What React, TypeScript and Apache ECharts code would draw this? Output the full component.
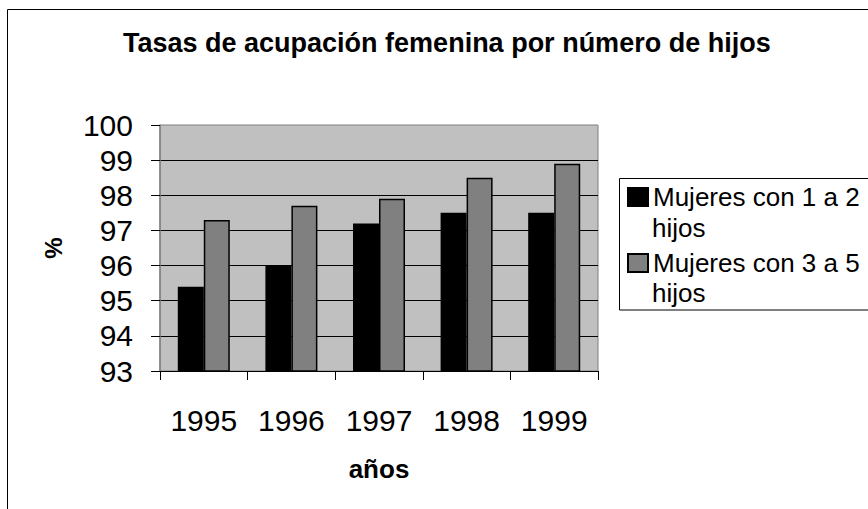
import React, { useEffect, useRef } from "react";
import * as echarts from "echarts";

const categories = ["1995", "1996", "1997", "1998", "1999"];
const seriesNames = ["Mujeres con 1 a 2 hijos", "Mujeres con 3 a 5 hijos"];
const legendFirstLines = ["Mujeres con 1 a 2", "Mujeres con 3 a 5"];
const legendSecondLine = "hijos";
const mujeres1a2 = [95.4, 96.0, 97.2, 97.5, 97.5];
const mujeres3a5 = [97.3, 97.7, 97.9, 98.5, 98.9];
const titleText = "Tasas de acupación femenina por número de hijos";
const xName = "años";
const yName = "%";

const FONT = "'Liberation Sans', Arial, sans-serif";

export default function App() {
  const ref = useRef<HTMLDivElement>(null);
  useEffect(() => {
    if (!ref.current) return;
    const chart = echarts.init(ref.current, null, { renderer: "svg" });
    chart.setOption({
      animation: false,
      backgroundColor: "#ffffff",
      textStyle: { fontFamily: FONT },
      title: {
        text: titleText,
        left: 123,
        top: 29,
        padding: 0,
        textStyle: { fontSize: 27, fontWeight: "bold", color: "#000", fontFamily: FONT, lineHeight: 27 },
      },
      grid: {
        left: 160,
        top: 125,
        width: 438,
        height: 246,
        show: true,
        backgroundColor: "#c0c0c0",
        borderColor: "#808080",
        borderWidth: 1,
      },
      legend: {
        orient: "vertical",
        left: 627,
        top: 182,
        padding: 0,
        itemWidth: 20,
        itemHeight: 18,
        itemGap: 36,
        icon: "rect",
        data: seriesNames,
        formatter: (name: string) => legendFirstLines[seriesNames.indexOf(name)],
        textStyle: { fontSize: 26, color: "#000", fontFamily: FONT, lineHeight: 30 },
      },
      xAxis: {
        type: "category",
        data: categories,
        name: xName,
        nameLocation: "middle",
        nameGap: 85,
        nameTextStyle: { fontSize: 26, fontWeight: "bold", color: "#000", fontFamily: FONT },
        axisLine: { lineStyle: { color: "#000", width: 1 } },
        axisTick: { show: true, length: 9, lineStyle: { color: "#000" } },
        axisLabel: { fontSize: 30, color: "#000", margin: 34, fontFamily: FONT },
        splitLine: { show: false },
      },
      yAxis: {
        type: "value",
        min: 93,
        max: 100,
        interval: 1,
        name: yName,
        nameLocation: "middle",
        nameGap: 95,
        nameTextStyle: { fontSize: 24, fontWeight: "bold", color: "#000", fontFamily: FONT },
        axisLine: { show: true, lineStyle: { color: "#808080", width: 1.5 } },
        axisTick: { show: true, length: 9, lineStyle: { color: "#000" } },
        axisLabel: { fontSize: 30, color: "#000", margin: 27, fontFamily: FONT },
        splitLine: { show: true, showMinLine: false, showMaxLine: false, lineStyle: { color: "#000", width: 1 } },
      },
      series: [
        {
          name: seriesNames[0],
          type: "bar",
          data: mujeres1a2,
          barWidth: 26,
          barGap: "0%",
          itemStyle: { color: "#000000", borderColor: "#000", borderWidth: 1.5 },
        },
        {
          name: seriesNames[1],
          type: "bar",
          data: mujeres3a5,
          barWidth: 26,
          barGap: "0%",
          itemStyle: { color: "#808080", borderColor: "#000", borderWidth: 1.5 },
        },
      ],
      graphic: [
        {
          type: "rect",
          z: -10,
          silent: true,
          shape: { x: 7.5, y: 9.5, width: 1000, height: 1000 },
          style: { fill: "none", stroke: "#000", lineWidth: 1 },
        },
        {
          type: "rect",
          z: 0,
          silent: true,
          shape: { x: 619.5, y: 178.5, width: 400, height: 131.5 },
          style: { fill: "#fff", stroke: "#000", lineWidth: 1 },
        },
        {
          type: "text",
          z: 5,
          x: 652,
          y: 228,
          style: { text: legendSecondLine, font: `26px ${FONT}`, fill: "#000", verticalAlign: "middle" },
        },
        {
          type: "text",
          z: 5,
          x: 652,
          y: 293,
          style: { text: legendSecondLine, font: `26px ${FONT}`, fill: "#000", verticalAlign: "middle" },
        },
      ],
    });
    return () => chart.dispose();
  }, []);
  return (
    <div
      ref={ref}
      style={{ position: "absolute", left: 0, top: 0, width: 868, height: 509, background: "#fff" }}
    />
  );
}
